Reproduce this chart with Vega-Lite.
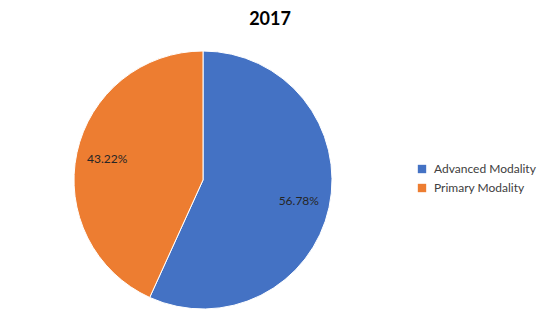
{
  "$schema": "https://vega.github.io/schema/vega-lite/v6.json",
  "autosize": {"type": "none"},
  "padding": {"top": 35, "left": 0, "right": 137, "bottom": 0},
  "width": 406,
  "height": 290,
  "background": "white",
  "title": {"text": "2017", "fontSize": 18, "fontWeight": "bold", "font": "Lato", "color": "#000000", "anchor": "middle", "dx": 67, "offset": 6},
  "data": {"values": [
    {"category": "Advanced Modality", "share": 56.78, "label": "56.78%"},
    {"category": "Primary Modality", "share": 43.22, "label": "43.22%"}
  ]},
  "encoding": {
    "theta": {"field": "share", "type": "quantitative", "stack": true},
    "order": {"field": "category", "type": "ordinal", "sort": "ascending"}
  },
  "layer": [
    {"mark": {"type": "arc", "outerRadius": 129, "stroke": "white", "strokeWidth": 1},
     "encoding": {
      "color": {"field": "category", "type": "nominal",
        "scale": {"domain": ["Advanced Modality", "Primary Modality"], "range": ["#4472C4", "#ED7D31"]},
        "legend": {"title": null, "orient": "none", "legendX": 416, "legendY": 128, "symbolType": "square", "symbolSize": 70, "symbolStrokeWidth": 0, "labelFont": "Lato", "labelFontSize": 12, "labelColor": "#404040", "rowPadding": 7, "labelOffset": 6}
      }
     }},
    {"mark": {"type": "text", "radius": 98, "font": "Lato", "fontSize": 12, "color": "#262626"},
     "encoding": {"text": {"field": "label", "type": "nominal"}, "detail": {"field": "category", "type": "nominal"}}}
  ]
}
